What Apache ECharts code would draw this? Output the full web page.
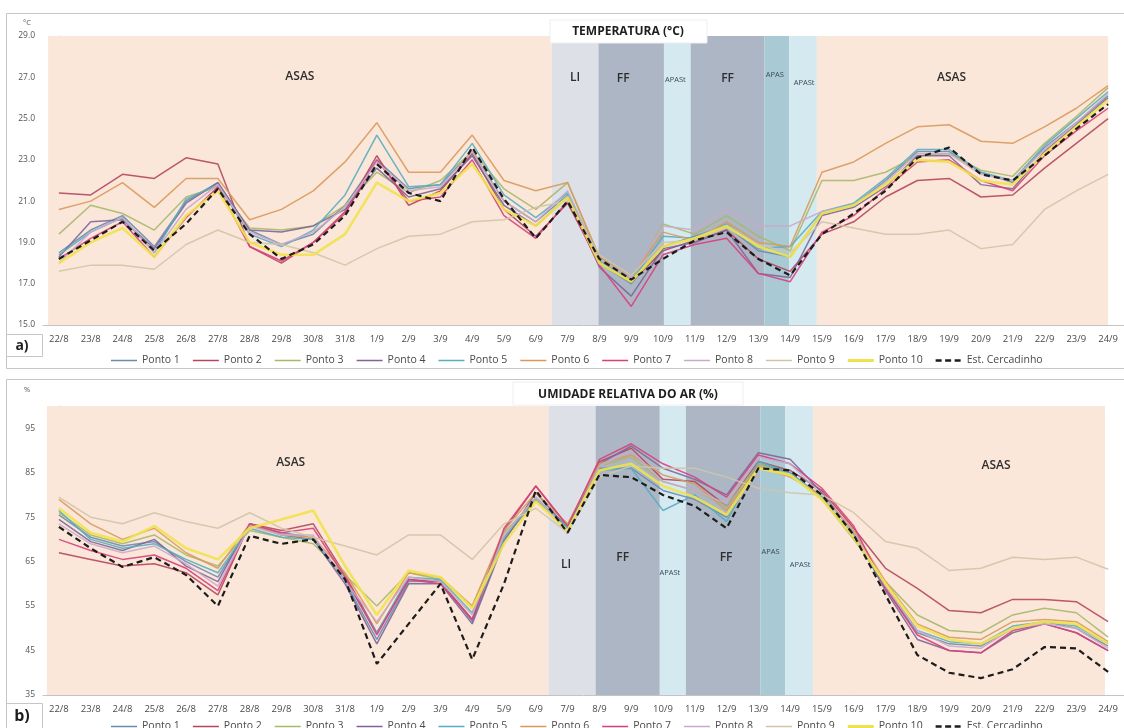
<!DOCTYPE html>
<html>
<head>
<meta charset="utf-8">
<script src="https://cdn.jsdelivr.net/npm/echarts@6/dist/echarts.min.js"></script>
<style>
  html, body { margin: 0; padding: 0; background: #ffffff; }
  #chart { width: 1124px; height: 728px; }
</style>
</head>
<body>
<div id="chart"></div>
<script>
// Daily dates of the campaign (22 Aug to 24 Sep)
const dates = ['22/8','23/8','24/8','25/8','26/8','27/8','28/8','29/8','30/8','31/8',
  '1/9','2/9','3/9','4/9','5/9','6/9','7/9','8/9','9/9','10/9','11/9','12/9','13/9','14/9',
  '15/9','16/9','17/9','18/9','19/9','20/9','21/9','22/9','23/9','24/9'];

const seriesNames = ['Ponto 1','Ponto 2','Ponto 3','Ponto 4','Ponto 5','Ponto 6','Ponto 7','Ponto 8','Ponto 9','Ponto 10','Est. Cercadinho'];

// Air temperature (°C)
const tempP1  = [18.5,19.6,20.3,18.8,21.0,21.9,19.6,18.9,19.4,20.8,23.0,21.6,21.8,23.4,21.0,20.0,21.3,18.0,17.0,18.8,19.3,19.8,18.6,18.3,20.4,20.8,22.0,23.4,23.4,22.4,21.9,23.6,24.8,26.1];
const tempP2  = [21.4,21.3,22.3,22.1,23.1,22.8,18.8,18.0,19.0,20.5,23.2,20.8,21.5,23.3,20.6,19.3,20.9,18.0,17.1,18.6,19.1,19.6,18.2,17.6,19.4,20.0,21.2,22.0,22.1,21.2,21.3,22.6,23.8,25.0];
const tempP3  = [19.4,20.8,20.4,19.6,21.2,21.7,19.7,19.6,19.8,20.8,22.4,21.4,22.0,23.4,21.6,20.6,21.9,18.2,17.2,19.9,19.4,20.3,19.3,18.6,22.0,22.0,22.4,23.2,23.3,22.5,22.2,23.8,25.1,26.5];
const tempP4  = [18.3,20.0,20.1,18.7,20.9,21.9,19.6,19.5,19.8,20.6,22.6,21.2,21.6,23.2,20.8,19.8,21.2,17.8,16.4,18.7,19.0,19.6,17.5,17.3,20.3,20.7,21.7,23.2,23.2,21.8,21.6,23.4,24.7,26.0];
const tempP5  = [18.4,19.5,20.2,18.5,21.1,21.8,19.4,18.8,19.6,21.3,24.2,21.7,21.8,23.8,21.3,20.2,21.4,18.1,17.1,19.3,19.2,19.9,18.7,18.8,20.5,20.9,22.1,23.5,23.5,22.4,22.0,23.7,25.0,26.3];
const tempP6  = [20.6,21.0,21.9,20.7,22.1,22.1,20.1,20.6,21.5,22.9,24.8,22.4,22.4,24.2,22.0,21.5,21.9,18.3,17.3,19.5,19.1,20.0,19.0,18.8,22.4,22.9,23.8,24.6,24.7,23.9,23.8,24.6,25.5,26.6];
const tempP7  = [18.2,19.2,20.0,18.3,20.2,21.7,18.8,18.1,19.0,20.4,23.0,21.0,21.2,23.0,20.3,19.2,21.0,17.9,15.9,18.4,18.9,19.2,17.5,17.1,19.5,20.3,21.6,22.9,23.0,22.0,21.5,23.2,24.4,25.5];
const tempP8  = [18.0,19.5,20.2,18.5,20.6,21.8,19.5,18.9,19.5,20.7,22.9,21.5,21.7,23.4,21.0,20.0,21.5,18.2,17.3,19.8,19.6,20.6,19.8,19.8,20.5,20.8,21.9,23.3,23.3,22.3,22.0,23.5,24.8,26.2];
const tempP9  = [17.6,17.9,17.9,17.7,18.9,19.6,19.0,18.9,18.5,17.9,18.7,19.3,19.4,20.0,20.1,20.7,21.0,18.4,17.4,19.0,19.1,19.7,18.9,18.5,20.0,19.7,19.4,19.4,19.6,18.7,18.9,20.6,21.5,22.3];
const tempP10 = [18.0,19.0,19.7,18.3,20.3,21.5,19.0,18.4,18.4,19.4,21.9,21.0,21.4,22.8,20.6,19.8,21.2,18.0,17.1,18.8,19.2,19.8,18.8,18.3,20.4,20.8,21.8,23.0,22.9,22.0,21.8,23.3,24.6,25.9];
const tempEst = [18.2,19.1,20.0,18.6,19.9,21.6,19.4,18.2,18.9,20.3,22.8,21.4,21.0,23.6,21.1,19.2,21.0,18.2,17.2,18.2,19.1,19.5,18.2,17.4,19.4,20.4,21.5,23.1,23.6,22.3,22.0,23.2,24.5,25.7];

// Relative humidity (%)
const humP1  = [75.5,70.5,68.5,69.5,65.0,61.5,73.0,71.5,70.5,60.5,47.5,60.5,60.5,51.5,70.0,79.0,72.0,86.0,86.0,81.0,79.0,75.0,87.0,85.0,79.0,71.0,59.0,49.0,46.5,46.0,50.0,51.5,50.0,46.0];
const humP2  = [67.0,65.5,64.0,64.5,62.5,57.5,73.5,72.0,73.5,62.0,49.0,61.0,60.5,52.0,72.0,82.0,73.0,87.5,90.5,83.5,83.0,77.5,87.5,85.5,81.0,72.5,63.5,59.0,54.0,53.5,56.5,56.5,56.0,51.5];
const humP3  = [76.0,71.0,69.0,71.0,66.5,64.0,72.0,70.5,69.0,62.0,55.0,62.5,61.0,55.0,71.5,79.0,73.0,86.5,88.5,83.0,81.0,77.5,87.0,84.5,79.0,70.0,60.5,53.0,49.5,49.0,53.0,54.5,53.5,48.0];
const humP4  = [74.5,69.5,67.5,70.0,64.0,60.5,73.5,71.0,70.0,60.0,46.5,60.0,60.0,51.0,69.5,80.5,72.5,87.0,91.0,86.0,83.5,80.0,89.5,88.0,80.5,71.5,58.5,47.5,45.0,44.5,49.0,51.0,49.0,45.0];
const humP5  = [76.5,70.0,68.0,69.0,65.5,62.5,72.5,70.5,70.0,61.0,49.0,61.5,61.0,53.5,70.5,79.5,72.5,85.5,86.0,76.5,80.0,74.0,87.5,85.0,79.5,70.5,59.5,49.5,47.0,46.5,50.5,51.5,50.5,46.5];
const humP6  = [79.0,73.5,70.0,72.5,67.0,63.5,73.5,71.0,70.5,62.5,51.0,62.5,61.5,55.0,72.0,80.5,73.5,87.0,89.0,84.5,82.5,76.5,86.5,84.0,80.0,72.0,60.5,51.0,48.0,47.5,51.5,52.0,51.5,47.0];
const humP7  = [70.0,67.5,65.5,66.5,63.5,58.5,73.5,71.5,72.5,61.5,48.5,61.0,60.0,52.0,72.5,82.0,73.0,88.0,91.5,87.0,84.0,79.5,89.0,87.0,81.5,73.0,59.0,48.5,45.0,44.5,49.5,51.0,49.0,45.0];
const humP8  = [73.5,69.0,67.0,68.5,64.5,59.5,73.0,71.0,71.0,60.5,51.5,61.5,60.5,53.0,71.0,79.5,72.0,86.5,90.0,83.0,81.0,78.0,88.5,87.0,80.0,71.5,59.5,49.5,46.0,45.5,50.0,51.0,50.0,45.5];
const humP9  = [79.5,75.0,73.5,76.0,74.0,72.5,76.0,72.5,70.5,68.5,66.5,71.0,71.0,65.5,73.5,77.0,71.5,84.0,86.5,86.0,86.0,84.0,81.5,80.5,80.0,76.0,69.5,68.0,63.0,63.5,66.0,65.5,66.0,63.3];
const humP10 = [77.0,71.5,69.5,73.0,68.0,65.5,72.5,74.5,76.5,64.0,53.0,63.0,61.5,54.5,69.0,78.5,72.0,85.5,87.0,82.0,79.5,75.5,86.0,84.5,79.0,70.5,60.0,50.5,47.5,46.5,50.0,51.5,51.0,46.5];
const humEst = [72.8,68.0,63.8,66.0,62.0,55.0,70.8,69.0,70.0,61.0,42.0,51.0,60.0,43.0,60.0,81.0,71.5,84.5,84.0,80.0,77.5,72.5,86.0,85.5,80.0,71.0,57.5,44.0,40.0,38.8,40.8,45.8,45.5,40.2];

// Synoptic regimes: [name, start, end] in category index units
const tempRegimes = [['ASAS',-0.34,15.5],['LI',15.5,16.97],['FF',16.97,19.03],['APASt',19.03,19.87],['FF',19.87,22.19],['APAS',22.19,22.97],['APASt',22.97,23.84],['ASAS',23.84,33.0]];
const humRegimes  = [['ASAS',-0.38,15.4],['LI',15.4,16.88],['FF',16.88,18.9],['APASt',18.9,19.72],['FF',19.72,22.06],['APAS',22.06,22.84],['APASt',22.84,23.72],['ASAS',23.72,32.9]];

const tempTicks = { min: 15, max: 29, interval: 2 };
const humTicks  = { min: 35, max: 100, interval: 10 };

// ---- styling ----
const lineColors = ['#6d8bb0','#b4475f','#a7b86c','#7e6699','#58adc1','#d89a5c','#d8407c','#c9aacb','#cfc5a8','#f0e24e','#1c1c1c'];
const regimeColors = { ASAS: '#fbe7d9', LI: '#dde0e6', FF: '#adb6c4', APASt: '#d5e9f0', APAS: '#a9c9d4' };
// label placement per regime band: [dx, dy from grid top]
const tempLabelPos = [[0,41],[0,42],[-8,43],[-2,44],[0,43],[-2,39],[1,47],[-11,42]];
const humLabelPos  = [[-7,57],[-6,159],[-5,152],[-3,167],[3,152],[-2,146],[1,159],[37,60]];

// legend glyphs (9px tall box, thin slivers fix the box size)
const BOX = 'M0,0H26V0.01H0Z M0,8.99H26V9H0Z ';
const ICON_LINE  = 'path://' + BOX + 'M0,3.7H26V5.3H0Z';
const ICON_THICK = 'path://' + BOX + 'M0,3H26V6H0Z';
const ICON_DASH  = 'path://' + BOX + 'M0,3.3H6V5.7H0Z M9.5,3.3H15.5V5.7H9.5Z M19,3.3H25V5.7H19Z';

const FONT = 'Open Sans';
const GRID_LEFT = 43, GRID_W = 1086, GRID_H = 289;

const tempData = [tempP1,tempP2,tempP3,tempP4,tempP5,tempP6,tempP7,tempP8,tempP9,tempP10,tempEst];
const humData  = [humP1,humP2,humP3,humP4,humP5,humP6,humP7,humP8,humP9,humP10,humEst];

function regimeSeries(regimes, labelPos, xIdx, yIdx) {
  return {
    type: 'line', xAxisIndex: xIdx, yAxisIndex: yIdx, data: [], silent: true, z: 0,
    markArea: {
      silent: true,
      data: regimes.map((r, i) => {
        const small = r[0].startsWith('APAS');
        return [{
          name: r[0], xAxis: r[1],
          itemStyle: { color: regimeColors[r[0]], opacity: 1 },
          label: {
            show: true, position: ['50%', labelPos[i][1]], offset: [labelPos[i][0], 0],
            align: 'center', verticalAlign: 'middle',
            fontFamily: FONT, fontSize: small ? 7.5 : 12, fontWeight: small ? 'normal' : 600,
            color: small ? '#3b4a5a' : '#2e2e2e'
          }
        }, { xAxis: r[2] }];
      })
    }
  };
}

function lineSeries(values, k, xIdx, yIdx) {
  const isEst = k === seriesNames.length - 1;
  return {
    name: seriesNames[k], type: 'line', xAxisIndex: xIdx, yAxisIndex: yIdx,
    data: values, symbol: 'none', showSymbol: false, z: isEst ? 5 : 3,
    lineStyle: {
      color: lineColors[k],
      width: isEst ? 2.2 : (k === 9 ? 2.6 : 1.5),
      type: isEst ? [6, 4] : 'solid',
      opacity: isEst ? 1 : 0.9
    },
    itemStyle: { color: lineColors[k] }
  };
}

function catAxis(grid) {
  return {
    type: 'category', gridIndex: grid, data: dates, boundaryGap: true,
    axisLine: { lineStyle: { color: '#c4c4c4', width: 1 } },
    axisTick: { interval: 1, length: 4, lineStyle: { color: '#c4c4c4' } },
    axisLabel: { interval: 0, fontFamily: FONT, fontSize: 9.5, color: '#4a4a4a', margin: 9 }
  };
}
function bandAxis(grid) {
  return { type: 'value', gridIndex: grid, min: -0.5, max: 33.5, show: false };
}
function valAxis(grid, ticks, decimals) {
  return {
    type: 'value', gridIndex: grid, min: ticks.min, max: ticks.max, interval: ticks.interval,
    splitLine: { show: false },
    axisLine: { show: true, lineStyle: { color: '#c4c4c4' } },
    axisTick: { show: true, length: 3, lineStyle: { color: '#c4c4c4' } },
    axisLabel: {
      fontFamily: FONT, fontSize: 8.5, color: '#555', margin: 8, showMaxLabel: grid === 0,
      formatter: v => v.toFixed(decimals)
    }
  };
}

function legendAt(top) {
  return {
    top: top, left: 106, itemWidth: 26, itemHeight: 9, itemGap: 13,
    textStyle: { fontFamily: FONT, fontSize: 10.5, color: '#4a4a4a' },
    selectedMode: false,
    data: seriesNames.map((n, k) => ({
      name: n,
      icon: k === seriesNames.length - 1 ? ICON_DASH : (k === 9 ? ICON_THICK : ICON_LINE)
    }))
  };
}

const chart = echarts.init(document.getElementById('chart'), null, { renderer: 'canvas' });
chart.setOption({
  animation: false,
  backgroundColor: '#ffffff',
  grid: [
    { left: GRID_LEFT, top: 36, width: GRID_W, height: GRID_H },
    { left: GRID_LEFT, top: 406, width: GRID_W, height: GRID_H }
  ],
  xAxis: [catAxis(0), bandAxis(0), catAxis(1), bandAxis(1)],
  yAxis: [valAxis(0, tempTicks, 1), valAxis(1, humTicks, 0)],
  legend: [legendAt(350), legendAt(716)],
  series: [
    regimeSeries(tempRegimes, tempLabelPos, 1, 0),
    regimeSeries(humRegimes, humLabelPos, 3, 1),
    ...tempData.map((d, k) => lineSeries(d, k, 0, 0)),
    ...humData.map((d, k) => lineSeries(d, k, 2, 1))
  ],
  graphic: [
    // panel frames
    { type: 'rect', shape: { x: 6.5, y: 13.5, width: 1120, height: 355 }, style: { fill: 'none', stroke: '#c6c6c6', lineWidth: 1 }, z: -1, silent: true },
    { type: 'rect', shape: { x: 6.5, y: 379.5, width: 1120, height: 360 }, style: { fill: 'none', stroke: '#c6c6c6', lineWidth: 1 }, z: -1, silent: true },
    // panel titles
    { type: 'rect', shape: { x: 550, y: 20, width: 157, height: 23 }, style: { fill: '#ffffff', stroke: '#eeeeee' }, z: 50 },
    { type: 'text', x: 628, y: 32, style: { text: 'TEMPERATURA (°C)', fontFamily: FONT, fontWeight: 700, fontSize: 12, fill: '#1e1e1e', textAlign: 'center', textVerticalAlign: 'middle' }, z: 51 },
    { type: 'rect', shape: { x: 513, y: 382, width: 230, height: 23 }, style: { fill: '#ffffff', stroke: '#eeeeee' }, z: 50 },
    { type: 'text', x: 628, y: 395, style: { text: 'UMIDADE RELATIVA DO AR (%)', fontFamily: FONT, fontWeight: 700, fontSize: 12, fill: '#1e1e1e', textAlign: 'center', textVerticalAlign: 'middle' }, z: 51 },
    // unit labels
    { type: 'text', x: 27, y: 23, style: { text: '°C', fontFamily: FONT, fontSize: 7.5, fill: '#555', textAlign: 'center', textVerticalAlign: 'middle' } },
    { type: 'text', x: 27, y: 390, style: { text: '%', fontFamily: FONT, fontSize: 7.5, fill: '#555', textAlign: 'center', textVerticalAlign: 'middle' } },
    // panel letters
    { type: 'rect', shape: { x: 6.5, y: 334.5, width: 36, height: 22 }, style: { fill: '#ffffff', stroke: '#c6c6c6' }, z: 40 },
    { type: 'text', x: 22, y: 346, style: { text: 'a)', fontFamily: FONT, fontWeight: 700, fontSize: 14, fill: '#1e1e1e', textAlign: 'center', textVerticalAlign: 'middle' }, z: 41 },
    { type: 'rect', shape: { x: 6.5, y: 703.5, width: 36, height: 30 }, style: { fill: '#ffffff', stroke: '#c6c6c6' }, z: 40 },
    { type: 'text', x: 22, y: 716, style: { text: 'b)', fontFamily: FONT, fontWeight: 700, fontSize: 16, fill: '#1e1e1e', textAlign: 'center', textVerticalAlign: 'middle' }, z: 41 }
  ]
});
</script>
</body>
</html>
